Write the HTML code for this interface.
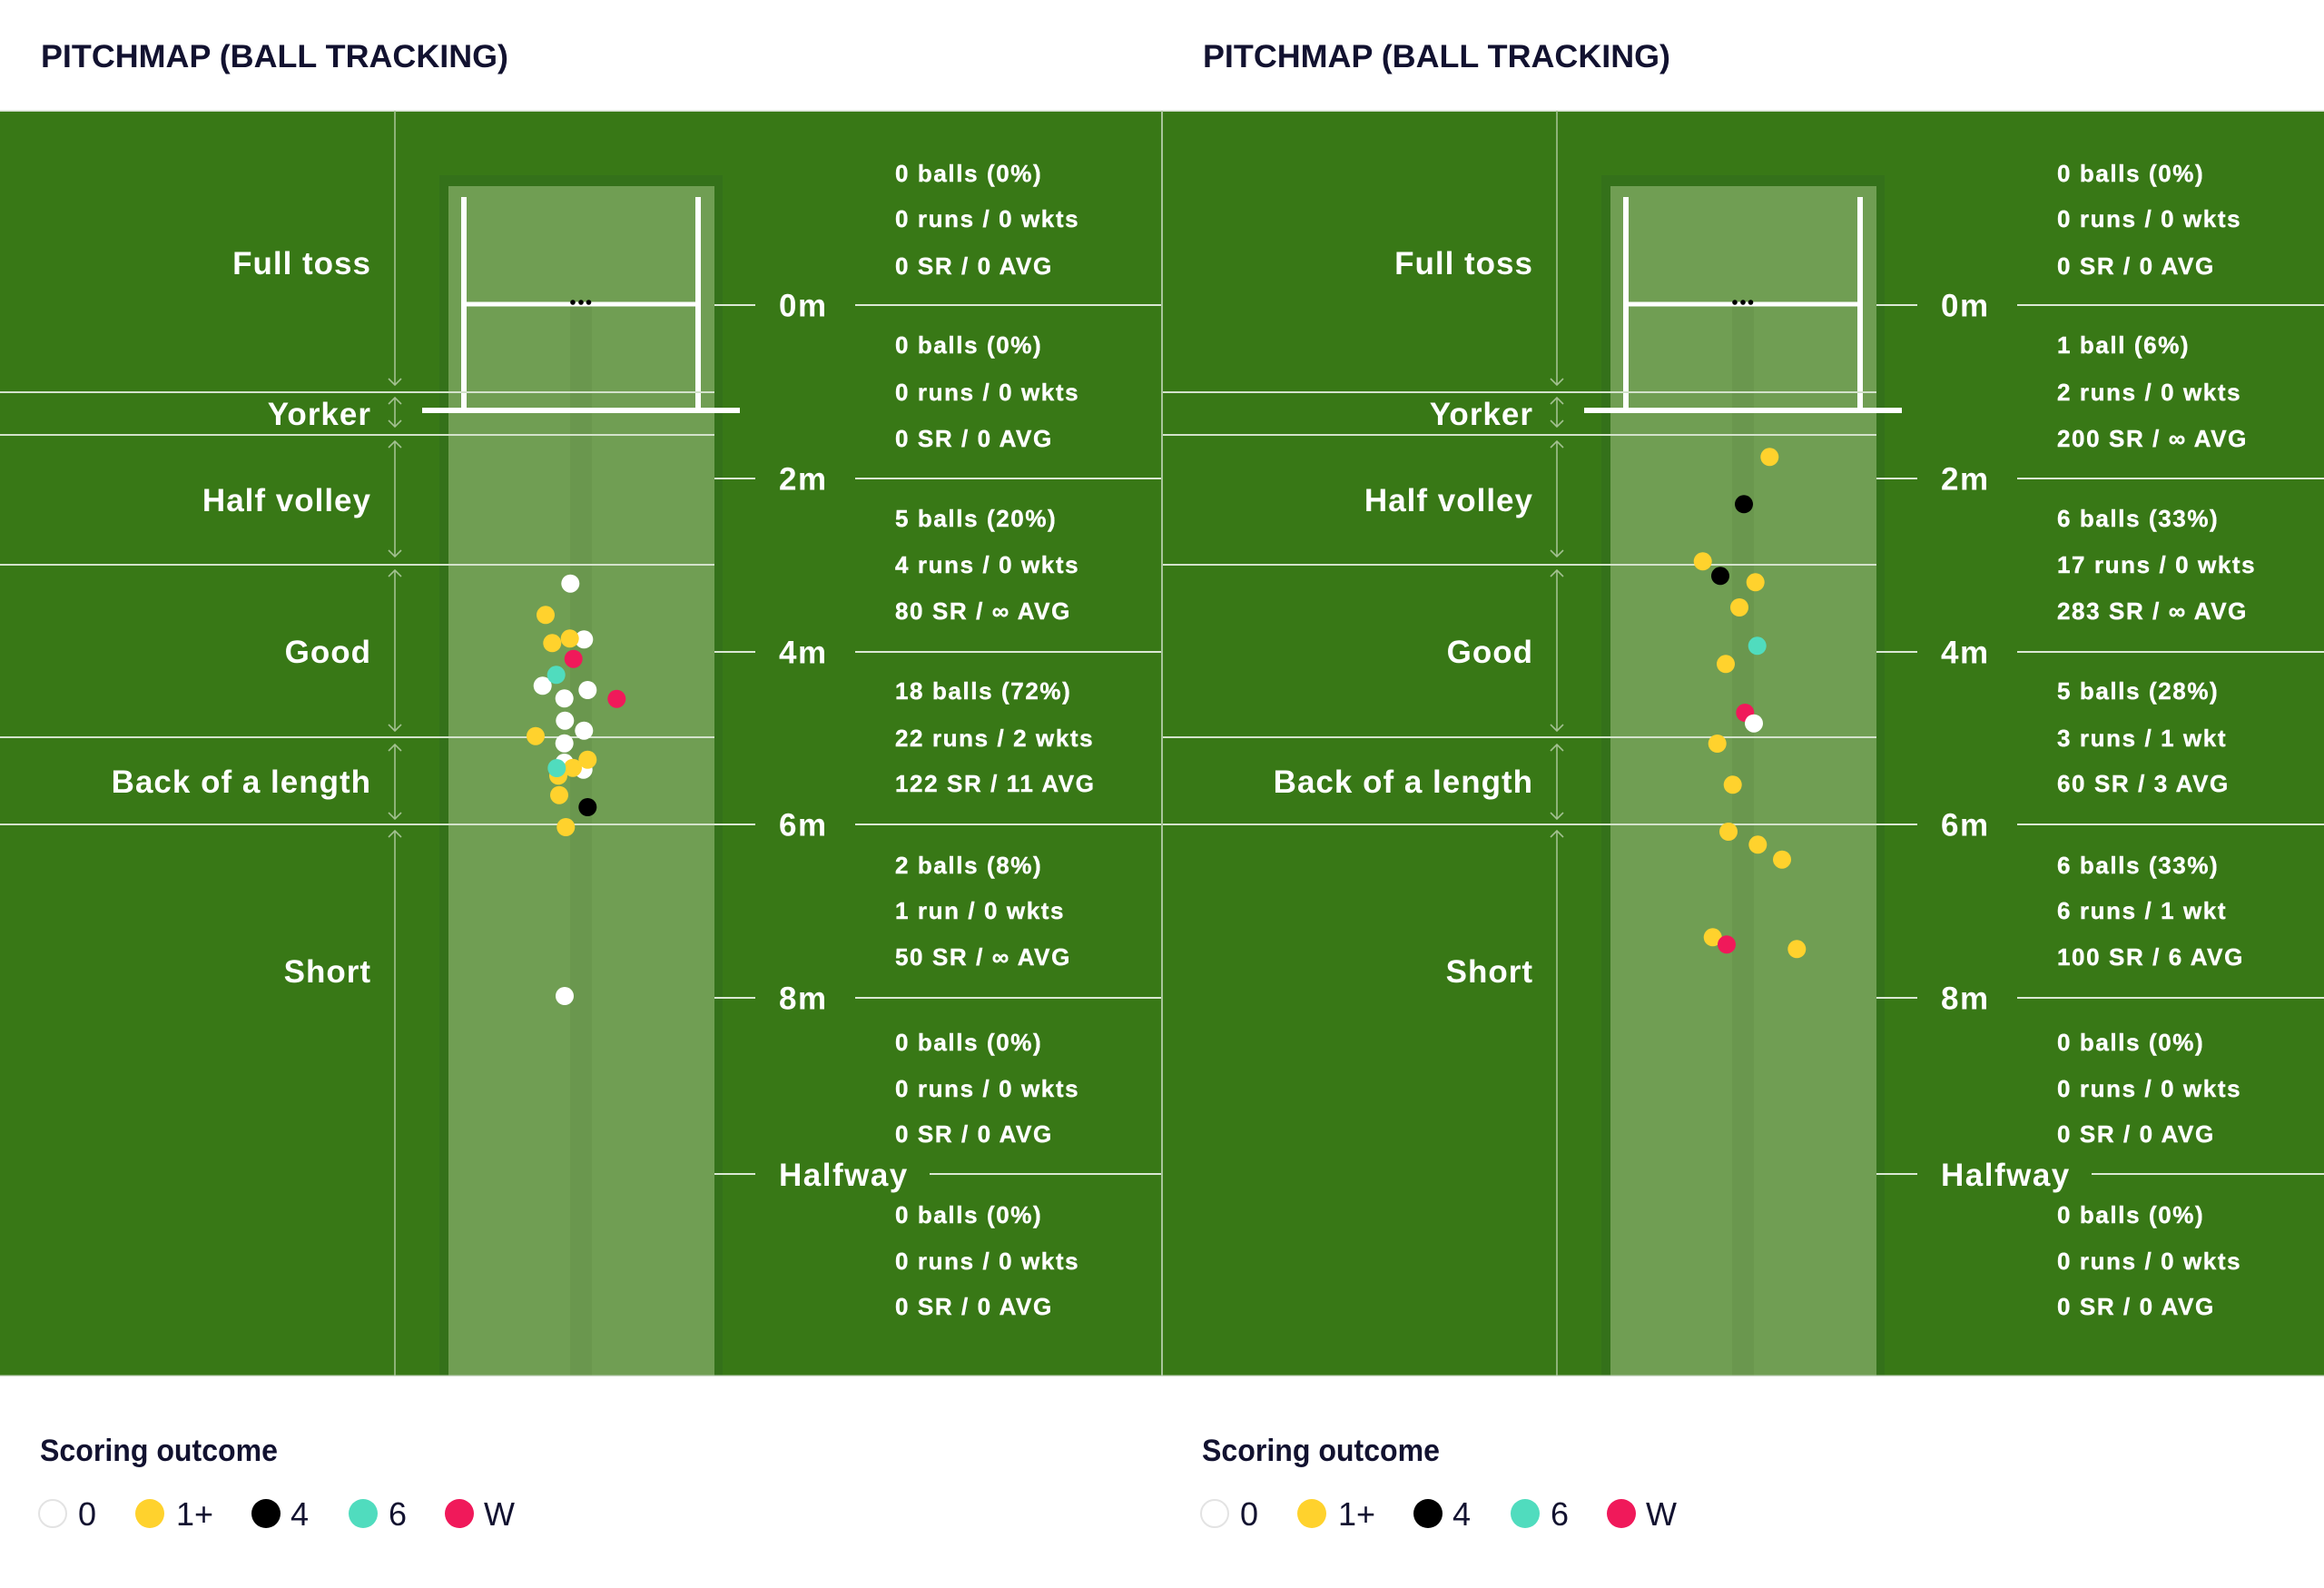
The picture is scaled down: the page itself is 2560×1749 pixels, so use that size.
<!DOCTYPE html>
<html>
<head>
<meta charset="utf-8">
<style>
html,body{margin:0;padding:0;background:#fff;}
svg{display:block;}
.zl{font-family:"Liberation Sans",Arial,sans-serif;font-weight:bold;font-size:35px;fill:#fff;text-anchor:end;letter-spacing:1px;}
.ml{font-family:"Liberation Sans",Arial,sans-serif;font-weight:bold;font-size:35px;fill:#fff;letter-spacing:1.5px;}
.st{font-family:"Liberation Sans",Arial,sans-serif;font-weight:bold;font-size:26px;fill:#fff;letter-spacing:1.6px;stroke:#fff;stroke-width:0.4px;}
.hd{font-family:"Liberation Sans",Arial,sans-serif;font-weight:bold;font-size:35px;fill:#121230;}
.lg{font-family:"Liberation Sans",Arial,sans-serif;font-weight:bold;font-size:34px;fill:#121230;}
.li{font-family:"Liberation Sans",Arial,sans-serif;font-size:36px;fill:#121230;}
</style>
</head>
<body>
<svg width="2560" height="1749" viewBox="0 0 2560 1749" xmlns="http://www.w3.org/2000/svg">
<rect x="0" y="0" width="2560" height="1749" fill="#fff"/>
<rect x="0" y="122" width="2560" height="1393" fill="#387816"/>
<rect x="0" y="121.5" width="2560" height="1.5" fill="#cfd8c8"/>

<!-- LEFT PANEL STRUCTURE -->
<g>
  <rect x="484" y="193" width="312" height="1322" fill="#34711a"/>
  <rect x="494" y="205" width="293" height="1310" fill="#709e53"/>
  <rect x="628" y="337" width="24" height="1178" fill="#6a974e"/>
  <rect x="508" y="217" width="6" height="237" fill="#fff"/>
  <rect x="766" y="217" width="6" height="237" fill="#fff"/>
  <rect x="511" y="332.5" width="258" height="5" fill="#fff"/>
  <rect x="465" y="449" width="350" height="6" fill="#fff"/>
  <circle cx="631" cy="333" r="2.8" fill="#000"/>
  <circle cx="640" cy="333" r="2.8" fill="#000"/>
  <circle cx="648.5" cy="333" r="2.8" fill="#000"/>
  <g stroke="#d3e2cb" stroke-width="2">
    <line x1="0" y1="432" x2="787" y2="432"/>
    <line x1="0" y1="479" x2="787" y2="479"/>
    <line x1="0" y1="622" x2="787" y2="622"/>
    <line x1="0" y1="812" x2="787" y2="812"/>
    <line x1="0" y1="908" x2="787" y2="908"/>
  </g>
  <g stroke="#dbe8d4" stroke-width="2">
    <line x1="787" y1="336" x2="832" y2="336"/><line x1="942" y1="336" x2="1280" y2="336"/>
    <line x1="787" y1="527" x2="832" y2="527"/><line x1="942" y1="527" x2="1280" y2="527"/>
    <line x1="787" y1="718" x2="832" y2="718"/><line x1="942" y1="718" x2="1280" y2="718"/>
    <line x1="787" y1="908" x2="832" y2="908"/><line x1="942" y1="908" x2="1280" y2="908"/>
    <line x1="787" y1="1099" x2="832" y2="1099"/><line x1="942" y1="1099" x2="1280" y2="1099"/>
    <line x1="787" y1="1293" x2="832" y2="1293"/><line x1="1024" y1="1293" x2="1280" y2="1293"/>
  </g>
  <g stroke="#a3c191" stroke-width="1.6" fill="none">
    <line x1="435" y1="122" x2="435" y2="424"/><polyline points="428,417 435,424 442,417"/>
    <line x1="435" y1="438" x2="435" y2="470"/><polyline points="428,445 435,438 442,445"/><polyline points="428,463 435,470 442,463"/>
    <line x1="435" y1="486" x2="435" y2="613"/><polyline points="428,493 435,486 442,493"/><polyline points="428,606 435,613 442,606"/>
    <line x1="435" y1="628" x2="435" y2="805"/><polyline points="428,635 435,628 442,635"/><polyline points="428,798 435,805 442,798"/>
    <line x1="435" y1="820" x2="435" y2="902"/><polyline points="428,827 435,820 442,827"/><polyline points="428,895 435,902 442,895"/>
    <line x1="435" y1="915" x2="435" y2="1515"/><polyline points="428,922 435,915 442,922"/>
  </g>
  <text class="zl" x="409" y="302">Full toss</text>
  <text class="zl" x="409" y="468">Yorker</text>
  <text class="zl" x="409" y="563">Half volley</text>
  <text class="zl" x="409" y="730">Good</text>
  <text class="zl" x="409" y="873">Back of a length</text>
  <text class="zl" x="409" y="1082">Short</text>
  <text class="ml" x="858" y="348.5">0m</text>
  <text class="ml" x="858" y="539.5">2m</text>
  <text class="ml" x="858" y="730.5">4m</text>
  <text class="ml" x="858" y="920.5">6m</text>
  <text class="ml" x="858" y="1111.5">8m</text>
  <text class="ml" x="858" y="1306">Halfway</text>
</g>

<!-- RIGHT PANEL STRUCTURE -->
<g transform="translate(1280,0)">
  <rect x="484" y="193" width="312" height="1322" fill="#34711a"/>
  <rect x="494" y="205" width="293" height="1310" fill="#709e53"/>
  <rect x="628" y="337" width="24" height="1178" fill="#6a974e"/>
  <rect x="508" y="217" width="6" height="237" fill="#fff"/>
  <rect x="766" y="217" width="6" height="237" fill="#fff"/>
  <rect x="511" y="332.5" width="258" height="5" fill="#fff"/>
  <rect x="465" y="449" width="350" height="6" fill="#fff"/>
  <circle cx="631" cy="333" r="2.8" fill="#000"/>
  <circle cx="640" cy="333" r="2.8" fill="#000"/>
  <circle cx="648.5" cy="333" r="2.8" fill="#000"/>
  <g stroke="#d3e2cb" stroke-width="2">
    <line x1="0" y1="432" x2="787" y2="432"/>
    <line x1="0" y1="479" x2="787" y2="479"/>
    <line x1="0" y1="622" x2="787" y2="622"/>
    <line x1="0" y1="812" x2="787" y2="812"/>
    <line x1="0" y1="908" x2="787" y2="908"/>
  </g>
  <g stroke="#dbe8d4" stroke-width="2">
    <line x1="787" y1="336" x2="832" y2="336"/><line x1="942" y1="336" x2="1280" y2="336"/>
    <line x1="787" y1="527" x2="832" y2="527"/><line x1="942" y1="527" x2="1280" y2="527"/>
    <line x1="787" y1="718" x2="832" y2="718"/><line x1="942" y1="718" x2="1280" y2="718"/>
    <line x1="787" y1="908" x2="832" y2="908"/><line x1="942" y1="908" x2="1280" y2="908"/>
    <line x1="787" y1="1099" x2="832" y2="1099"/><line x1="942" y1="1099" x2="1280" y2="1099"/>
    <line x1="787" y1="1293" x2="832" y2="1293"/><line x1="1024" y1="1293" x2="1280" y2="1293"/>
  </g>
  <g stroke="#a3c191" stroke-width="1.6" fill="none">
    <line x1="435" y1="122" x2="435" y2="424"/><polyline points="428,417 435,424 442,417"/>
    <line x1="435" y1="438" x2="435" y2="470"/><polyline points="428,445 435,438 442,445"/><polyline points="428,463 435,470 442,463"/>
    <line x1="435" y1="486" x2="435" y2="613"/><polyline points="428,493 435,486 442,493"/><polyline points="428,606 435,613 442,606"/>
    <line x1="435" y1="628" x2="435" y2="805"/><polyline points="428,635 435,628 442,635"/><polyline points="428,798 435,805 442,798"/>
    <line x1="435" y1="820" x2="435" y2="902"/><polyline points="428,827 435,820 442,827"/><polyline points="428,895 435,902 442,895"/>
    <line x1="435" y1="915" x2="435" y2="1515"/><polyline points="428,922 435,915 442,922"/>
  </g>
  <text class="zl" x="409" y="302">Full toss</text>
  <text class="zl" x="409" y="468">Yorker</text>
  <text class="zl" x="409" y="563">Half volley</text>
  <text class="zl" x="409" y="730">Good</text>
  <text class="zl" x="409" y="873">Back of a length</text>
  <text class="zl" x="409" y="1082">Short</text>
  <text class="ml" x="858" y="348.5">0m</text>
  <text class="ml" x="858" y="539.5">2m</text>
  <text class="ml" x="858" y="730.5">4m</text>
  <text class="ml" x="858" y="920.5">6m</text>
  <text class="ml" x="858" y="1111.5">8m</text>
  <text class="ml" x="858" y="1306">Halfway</text>
</g>

<!-- divider -->
<rect x="1279" y="122" width="2" height="1393" fill="#a9c59b"/>
<rect x="0" y="1514.5" width="2560" height="1.2" fill="#b8cbb0"/>

<!-- LEFT STATS -->
<g>
  <text class="st" x="986" y="200">0 balls (0%)</text>
  <text class="st" x="986" y="250">0 runs / 0 wkts</text>
  <text class="st" x="986" y="302">0 SR / 0 AVG</text>
  <text class="st" x="986" y="389">0 balls (0%)</text>
  <text class="st" x="986" y="441">0 runs / 0 wkts</text>
  <text class="st" x="986" y="492">0 SR / 0 AVG</text>
  <text class="st" x="986" y="580">5 balls (20%)</text>
  <text class="st" x="986" y="631">4 runs / 0 wkts</text>
  <text class="st" x="986" y="682">80 SR / ∞ AVG</text>
  <text class="st" x="986" y="770">18 balls (72%)</text>
  <text class="st" x="986" y="822">22 runs / 2 wkts</text>
  <text class="st" x="986" y="872">122 SR / 11 AVG</text>
  <text class="st" x="986" y="962">2 balls (8%)</text>
  <text class="st" x="986" y="1012">1 run / 0 wkts</text>
  <text class="st" x="986" y="1063">50 SR / ∞ AVG</text>
  <text class="st" x="986" y="1157">0 balls (0%)</text>
  <text class="st" x="986" y="1208">0 runs / 0 wkts</text>
  <text class="st" x="986" y="1258">0 SR / 0 AVG</text>
  <text class="st" x="986" y="1347">0 balls (0%)</text>
  <text class="st" x="986" y="1398">0 runs / 0 wkts</text>
  <text class="st" x="986" y="1448">0 SR / 0 AVG</text>
</g>

<!-- RIGHT STATS -->
<g>
  <text class="st" x="2266" y="200">0 balls (0%)</text>
  <text class="st" x="2266" y="250">0 runs / 0 wkts</text>
  <text class="st" x="2266" y="302">0 SR / 0 AVG</text>
  <text class="st" x="2266" y="389">1 ball (6%)</text>
  <text class="st" x="2266" y="441">2 runs / 0 wkts</text>
  <text class="st" x="2266" y="492">200 SR / ∞ AVG</text>
  <text class="st" x="2266" y="580">6 balls (33%)</text>
  <text class="st" x="2266" y="631">17 runs / 0 wkts</text>
  <text class="st" x="2266" y="682">283 SR / ∞ AVG</text>
  <text class="st" x="2266" y="770">5 balls (28%)</text>
  <text class="st" x="2266" y="822">3 runs / 1 wkt</text>
  <text class="st" x="2266" y="872">60 SR / 3 AVG</text>
  <text class="st" x="2266" y="962">6 balls (33%)</text>
  <text class="st" x="2266" y="1012">6 runs / 1 wkt</text>
  <text class="st" x="2266" y="1063">100 SR / 6 AVG</text>
  <text class="st" x="2266" y="1157">0 balls (0%)</text>
  <text class="st" x="2266" y="1208">0 runs / 0 wkts</text>
  <text class="st" x="2266" y="1258">0 SR / 0 AVG</text>
  <text class="st" x="2266" y="1347">0 balls (0%)</text>
  <text class="st" x="2266" y="1398">0 runs / 0 wkts</text>
  <text class="st" x="2266" y="1448">0 SR / 0 AVG</text>
</g>

<!-- LEFT DOTS -->
<g>
  <circle cx="628.3" cy="642.7" r="10" fill="#ffffff"/>
  <circle cx="601" cy="677.3" r="10" fill="#ffd22d"/>
  <circle cx="643.3" cy="704.3" r="10" fill="#ffffff"/>
  <circle cx="608.3" cy="708.3" r="10" fill="#ffd22d"/>
  <circle cx="627.7" cy="703.3" r="10" fill="#ffd22d"/>
  <circle cx="631.7" cy="725.7" r="10" fill="#f0195a"/>
  <circle cx="597.7" cy="755.3" r="10" fill="#ffffff"/>
  <circle cx="612.7" cy="743.3" r="10" fill="#50dcbe"/>
  <circle cx="647.3" cy="760" r="10" fill="#ffffff"/>
  <circle cx="621.7" cy="769.3" r="10" fill="#ffffff"/>
  <circle cx="679.3" cy="769.7" r="10" fill="#f0195a"/>
  <circle cx="622.3" cy="793.7" r="10" fill="#ffffff"/>
  <circle cx="643.3" cy="804.7" r="10" fill="#ffffff"/>
  <circle cx="590" cy="810.7" r="10" fill="#ffd22d"/>
  <circle cx="621.7" cy="818.7" r="10" fill="#ffffff"/>
  <circle cx="621.7" cy="840" r="10" fill="#ffffff"/>
  <circle cx="642.7" cy="847.7" r="10" fill="#ffffff"/>
  <circle cx="647.3" cy="836.7" r="10" fill="#ffd22d"/>
  <circle cx="615" cy="854.3" r="10" fill="#ffd22d"/>
  <circle cx="631" cy="845.7" r="10" fill="#ffd22d"/>
  <circle cx="613.3" cy="846" r="10" fill="#50dcbe"/>
  <circle cx="616" cy="875.7" r="10" fill="#ffd22d"/>
  <circle cx="647.3" cy="889" r="10" fill="#000000"/>
  <circle cx="623.3" cy="911" r="10" fill="#ffd22d"/>
  <circle cx="622" cy="1097" r="10" fill="#ffffff"/>
</g>

<!-- RIGHT DOTS -->
<g>
  <circle cx="1949.3" cy="503.3" r="10" fill="#ffd22d"/>
  <circle cx="1921" cy="555.3" r="10" fill="#000000"/>
  <circle cx="1875.7" cy="618.3" r="10" fill="#ffd22d"/>
  <circle cx="1895" cy="634.3" r="10" fill="#000000"/>
  <circle cx="1933.7" cy="641.3" r="10" fill="#ffd22d"/>
  <circle cx="1916" cy="669" r="10" fill="#ffd22d"/>
  <circle cx="1935.7" cy="711.3" r="10" fill="#50dcbe"/>
  <circle cx="1901" cy="731.3" r="10" fill="#ffd22d"/>
  <circle cx="1922.3" cy="785" r="10" fill="#f0195a"/>
  <circle cx="1932" cy="796.7" r="10" fill="#ffffff"/>
  <circle cx="1891.7" cy="819" r="10" fill="#ffd22d"/>
  <circle cx="1908.7" cy="864.3" r="10" fill="#ffd22d"/>
  <circle cx="1904" cy="916" r="10" fill="#ffd22d"/>
  <circle cx="1936.3" cy="930.3" r="10" fill="#ffd22d"/>
  <circle cx="1963" cy="946.7" r="10" fill="#ffd22d"/>
  <circle cx="1886.7" cy="1032.3" r="10" fill="#ffd22d"/>
  <circle cx="1902" cy="1040.3" r="10" fill="#f0195a"/>
  <circle cx="1979.3" cy="1045.3" r="10" fill="#ffd22d"/>
</g>

<!-- TITLES -->
<text class="hd" x="45" y="74" textLength="515" lengthAdjust="spacingAndGlyphs">PITCHMAP (BALL TRACKING)</text>
<text class="hd" x="1325" y="74" textLength="515" lengthAdjust="spacingAndGlyphs">PITCHMAP (BALL TRACKING)</text>

<!-- LEGENDS -->
<g>
  <text class="lg" x="44" y="1609" textLength="262" lengthAdjust="spacingAndGlyphs">Scoring outcome</text>
  <circle cx="58" cy="1667" r="15" fill="#fff" stroke="#e3e3e3" stroke-width="2"/>
  <text class="li" x="86" y="1680">0</text>
  <circle cx="165" cy="1667" r="16" fill="#ffd22d"/>
  <text class="li" x="194" y="1680">1+</text>
  <circle cx="293" cy="1667" r="16" fill="#000"/>
  <text class="li" x="320" y="1680">4</text>
  <circle cx="400" cy="1667" r="16" fill="#50dcbe"/>
  <text class="li" x="428" y="1680">6</text>
  <circle cx="506" cy="1667" r="16" fill="#f0195a"/>
  <text class="li" x="533" y="1680">W</text>
</g>
<g transform="translate(1280,0)">
  <text class="lg" x="44" y="1609" textLength="262" lengthAdjust="spacingAndGlyphs">Scoring outcome</text>
  <circle cx="58" cy="1667" r="15" fill="#fff" stroke="#e3e3e3" stroke-width="2"/>
  <text class="li" x="86" y="1680">0</text>
  <circle cx="165" cy="1667" r="16" fill="#ffd22d"/>
  <text class="li" x="194" y="1680">1+</text>
  <circle cx="293" cy="1667" r="16" fill="#000"/>
  <text class="li" x="320" y="1680">4</text>
  <circle cx="400" cy="1667" r="16" fill="#50dcbe"/>
  <text class="li" x="428" y="1680">6</text>
  <circle cx="506" cy="1667" r="16" fill="#f0195a"/>
  <text class="li" x="533" y="1680">W</text>
</g>
</svg>
</body>
</html>
